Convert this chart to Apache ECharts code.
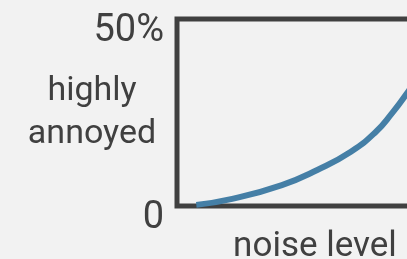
<!DOCTYPE html>
<html>
<head>
<meta charset="utf-8">
<script src="https://cdn.jsdelivr.net/npm/echarts@6/dist/echarts.min.js"></script>
<style>
    html, body { margin: 0; padding: 0; background: #f2f2f2; }
    #chart { width: 407px; height: 259px; }
</style>
</head>
<body>
<div id="chart"></div>
<script>
    // noise level (arbitrary units) vs share highly annoyed (%)
    var noiseLevel = [7, 20, 38, 51, 63, 72, 78, 83, 88];
    var annoyedPct = [0.3, 1.9, 5.6, 9.7, 14.5, 19.8, 24.9, 29.8, 35.5];
    var yTicks = {0: '0', 50: '50%'};

    var ink = '#404040';
    var font = 'Roboto';

    var points = [];
    for (var i = 0; i < noiseLevel.length; i++) {
        points.push([noiseLevel[i], annoyedPct[i]]);
    }

    var chart = echarts.init(document.getElementById('chart'));

    var option = {
        backgroundColor: '#f2f2f2',
        animation: false,
        grid: {
            left: 177,
            top: 19,
            right: -46,
            bottom: 53,
            outerBoundsMode: 'none',
            containLabel: false,
            show: true,
            borderColor: ink,
            borderWidth: 5,
            backgroundColor: 'transparent'
        },
        xAxis: {
            type: 'value',
            min: 0,
            max: 100,
            name: 'noise level',
            nameLocation: 'middle',
            nameGap: 24,
            nameMoveOverlap: false,
            nameTextStyle: {color: ink, fontSize: 35, fontFamily: font},
            axisLine: {show: false},
            axisTick: {show: false},
            axisLabel: {show: false},
            splitLine: {show: false}
        },
        yAxis: {
            type: 'value',
            min: 0,
            max: 50,
            interval: 50,
            name: 'highly\nannoyed',
            nameLocation: 'middle',
            nameRotate: 0,
            nameGap: 85,
            nameMoveOverlap: false,
            nameTextStyle: {color: ink, fontSize: 34, fontFamily: font, align: 'center', lineHeight: 43},
            axisLine: {show: false},
            axisTick: {show: false},
            splitLine: {show: false},
            axisLabel: {
                color: ink,
                fontSize: 38,
                fontFamily: font,
                margin: 13,
                verticalAlign: 'top',
                lineHeight: 24,
                formatter: function (v) { return yTicks[v]; }
            }
        },
        series: [{
            type: 'line',
            data: points,
            smooth: true,
            showSymbol: false,
            lineStyle: {color: '#457fa6', width: 6, cap: 'butt'}
        }]
    };

    chart.setOption(option);
</script>
</body>
</html>
